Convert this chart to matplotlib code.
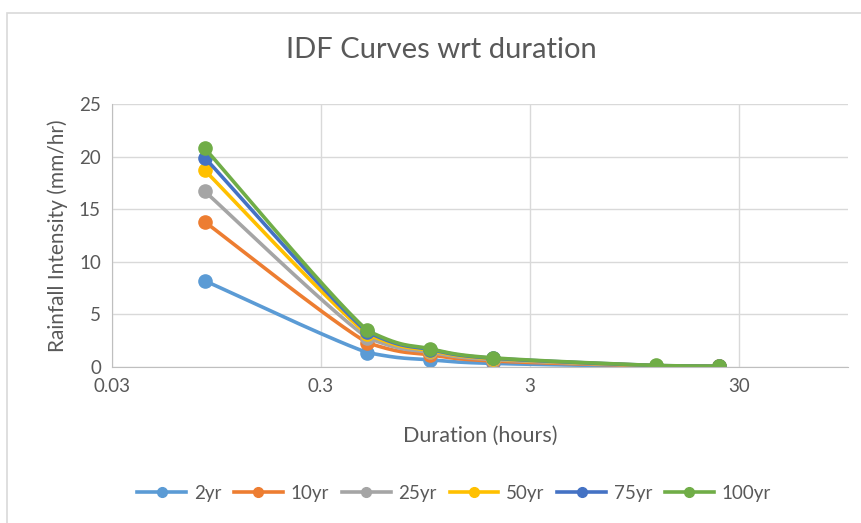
import numpy as np
import matplotlib
matplotlib.use("Agg")
import matplotlib.pyplot as plt
from matplotlib.patches import Rectangle

plt.rcParams['font.family'] = ['Lato', 'DejaVu Sans']

# durations in hours
duration = [0.0833, 0.5, 1, 2, 12, 24]

# rainfall intensity (mm/hr)
i_2yr = [8.2, 1.37, 0.68, 0.34, 0.06, 0.03]
i_10yr = [13.8, 2.30, 1.15, 0.57, 0.10, 0.05]
i_25yr = [16.7, 2.78, 1.39, 0.70, 0.12, 0.06]
i_50yr = [18.7, 3.12, 1.56, 0.78, 0.13, 0.065]
i_75yr = [19.9, 3.32, 1.66, 0.83, 0.14, 0.07]
i_100yr = [20.8, 3.47, 1.73, 0.87, 0.145, 0.072]

labels = ["2yr", "10yr", "25yr", "50yr", "75yr", "100yr"]
colors = ["#5B9BD5", "#ED7D31", "#A5A5A5", "#FFC000", "#4472C4", "#70AD47"]
series = [i_2yr, i_10yr, i_25yr, i_50yr, i_75yr, i_100yr]

xticks = [0.03, 0.3, 3, 30]
xticklabels = ["0.03", "0.3", "3", "30"]


def smooth(x, y, n=30):
    # excel-like smoothed line: bezier with catmull-rom handles in log-x space,
    # handle heights clamped so the curve never dips past a point
    lx = np.log10(np.asarray(x, float))
    y = np.asarray(y, float)
    px = np.concatenate([[lx[0]], lx, [lx[-1]]])
    py = np.concatenate([[y[0]], y, [y[-1]]])
    t = np.linspace(0, 1, n)
    outx, outy = [], []
    for k in range(1, len(px) - 2):
        x1, x2, y1, y2 = px[k], px[k + 1], py[k], py[k + 1]
        bx1 = x1 + (px[k + 1] - px[k - 1]) / 6
        by1 = y1 + (py[k + 1] - py[k - 1]) / 6
        bx2 = x2 - (px[k + 2] - px[k]) / 6
        by2 = y2 - (py[k + 2] - py[k]) / 6
        lo, hi = min(y1, y2), max(y1, y2)
        by1 = np.clip(by1, lo, hi)
        by2 = np.clip(by2, lo, hi)
        c = [(1 - t) ** 3, 3 * (1 - t) ** 2 * t, 3 * (1 - t) * t ** 2, t ** 3]
        outx.extend(c[0] * x1 + c[1] * bx1 + c[2] * bx2 + c[3] * x2)
        outy.extend(c[0] * y1 + c[1] * by1 + c[2] * by2 + c[3] * y2)
    return 10 ** np.array(outx), np.array(outy)


fig = plt.figure(figsize=(8.62, 5.23), dpi=100)
fig.patches.append(Rectangle((7 / 862, -0.05), 1.1, (523 - 13) / 523 + 0.05, transform=fig.transFigure,
                             fill=False, edgecolor="#D9D9D9", linewidth=1.2))
ax = fig.add_axes([112 / 862, (523 - 367) / 523, (848 - 112) / 862, (367 - 104) / 523])

for y, lab, c in zip(series, labels, colors):
    sx, sy = smooth(duration, y)
    ax.plot(sx, sy, color=c, linewidth=2.6, solid_capstyle="round")
    ax.plot(duration, y, linestyle="none", marker="o", markersize=9.5, color=c)
    ax.plot([], [], color=c, linewidth=2.6, marker="o", markersize=7, label=lab)

ax.set_xscale("log")
ax.set_xlim(0.03, 99.5)
ax.set_ylim(0, 25)
ax.set_xticks(xticks)
ax.set_xticklabels(xticklabels)
ax.minorticks_off()
ax.set_yticks(range(0, 26, 5))
ax.grid(True, color="#D9D9D9", linewidth=1)
ax.set_axisbelow(True)
for s in ["top", "right"]:
    ax.spines[s].set_visible(False)
for s in ["left", "bottom"]:
    ax.spines[s].set_color("#BFBFBF")
ax.tick_params(length=0, colors="#595959", labelsize=13.5, pad=8)

ax.set_xlabel("Duration (hours)", fontsize=15.5, color="#595959", labelpad=22)
ax.set_ylabel("Rainfall Intensity (mm/hr)", fontsize=15, color="#595959", labelpad=8)
fig.text(441 / 862, 1 - 50 / 523, "IDF Curves wrt duration", fontsize=21, color="#595959",
         ha="center", va="center")

fig.legend(loc="center", bbox_to_anchor=(454 / 862, 1 - 493 / 523), ncol=6, frameon=False,
           fontsize=13.5, labelcolor="#595959", handlelength=2.6, columnspacing=0.7, handletextpad=0.4)

fig.savefig("out.png", dpi=100)
